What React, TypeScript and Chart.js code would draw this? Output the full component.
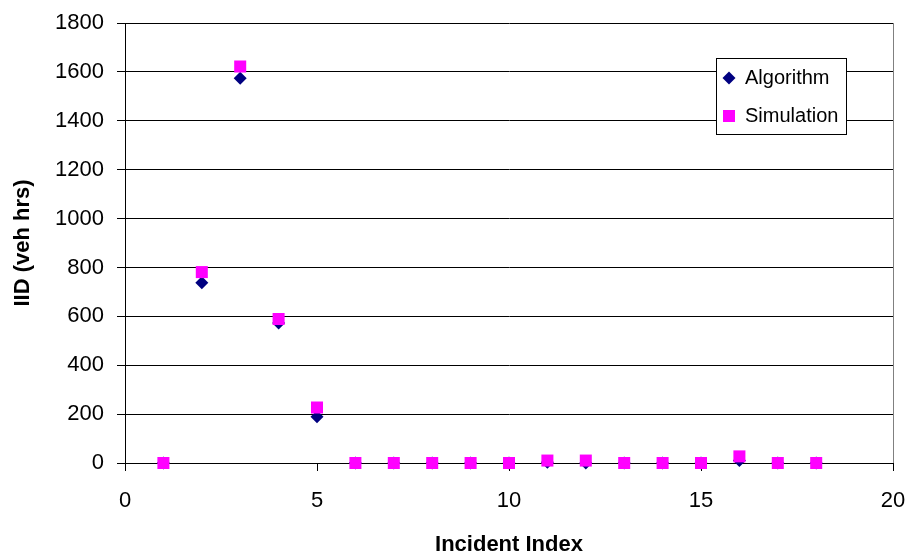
import React, { useEffect, useRef } from "react";
import { Chart, registerables } from "chart.js";

Chart.register(...registerables);

const incidentIndex = [1, 2, 3, 4, 5, 6, 7, 8, 9, 10, 11, 12, 13, 14, 15, 16, 17, 18];
const algorithmValues = [0, 737, 1574, 573, 189, 0, 0, 0, 0, 0, 3, 0, 0, 0, 0, 10, 0, 0];
const simulationValues = [0, 781, 1622, 589, 227, 0, 0, 0, 0, 0, 10, 10, 0, 0, 0, 27, 0, 0];
const seriesNames = ["Algorithm", "Simulation"];
const seriesColors = ["#000080", "#FF00FF"];
const xTitle = "Incident Index";
const yTitle = "IID (veh hrs)";

const FONT = '"Liberation Sans", Arial, sans-serif';

const frameAndLegend = {
  id: "frameAndLegend",
  afterDatasetsDraw(chart: any) {
    const { ctx, chartArea } = chart;
    ctx.save();
    // right border of plot area
    ctx.strokeStyle = "#808080";
    ctx.lineWidth = 1;
    ctx.beginPath();
    ctx.moveTo(Math.round(chartArea.right) + 0.5, chartArea.top);
    ctx.lineTo(Math.round(chartArea.right) + 0.5, chartArea.bottom);
    ctx.stroke();

    // legend box
    const bx = 716.5, by = 58.5, bw = 130, bh = 76;
    ctx.fillStyle = "#ffffff";
    ctx.fillRect(bx, by, bw, bh);
    ctx.strokeStyle = "#000000";
    ctx.strokeRect(bx, by, bw, bh);

    // Algorithm marker (diamond)
    const mx = 729;
    const y1 = 78, y2 = 116;
    ctx.fillStyle = seriesColors[0];
    ctx.beginPath();
    ctx.moveTo(mx, y1 - 6.5);
    ctx.lineTo(mx + 6.5, y1);
    ctx.lineTo(mx, y1 + 6.5);
    ctx.lineTo(mx - 6.5, y1);
    ctx.closePath();
    ctx.fill();
    // Simulation marker (square)
    ctx.fillStyle = seriesColors[1];
    ctx.fillRect(mx - 6, y2 - 6, 12, 12);

    ctx.fillStyle = "#000000";
    ctx.font = `20px ${FONT}`;
    ctx.textBaseline = "middle";
    ctx.textAlign = "left";
    ctx.fillText(seriesNames[0], 745, y1);
    ctx.fillText(seriesNames[1], 745, y2);
    ctx.restore();
  },
};

export default function App() {
  const canvasRef = useRef<HTMLCanvasElement | null>(null);

  useEffect(() => {
    if (!canvasRef.current) return;
    const chart = new Chart(canvasRef.current, {
      type: "scatter",
      data: {
        datasets: [
          {
            label: seriesNames[1],
            data: incidentIndex.map((x, i) => ({ x, y: simulationValues[i] })),
            pointStyle: "rect",
            pointRadius: 8.5,
            backgroundColor: seriesColors[1],
            borderColor: seriesColors[1],
            borderWidth: 0,
            order: 0,
            clip: false as any,
          },
          {
            label: seriesNames[0],
            data: incidentIndex.map((x, i) => ({ x, y: algorithmValues[i] })),
            pointStyle: "rectRot",
            pointRadius: 6.5,
            backgroundColor: seriesColors[0],
            borderColor: seriesColors[0],
            borderWidth: 0,
            order: 1,
            clip: false as any,
          },
        ],
      },
      options: {
        animation: false,
        responsive: true,
        maintainAspectRatio: false,
        layout: { padding: { top: 23, right: 17, left: 0, bottom: 0 } },
        plugins: {
          legend: { display: false },
          tooltip: { enabled: false },
        },
        scales: {
          x: {
            type: "linear",
            min: 0,
            max: 20,
            ticks: {
              stepSize: 5,
              color: "#000",
              padding: 17,
              font: { family: FONT, size: 22 },
              callback: (v: any) => String(v),
            },
            grid: {
              display: true,
              drawOnChartArea: false,
              drawTicks: true,
              tickLength: 8,
              color: "#000",
            },
            border: { display: true, color: "#000", width: 1 },
            title: {
              display: true,
              text: xTitle,
              color: "#000",
              font: { family: FONT, size: 22, weight: "bold" },
              padding: { top: 0, bottom: 0 },
            },
            afterFit(scale: any) {
              scale.height = 95;
              scale.paddingLeft = 0;
              scale.paddingRight = 0;
            },
          },
          y: {
            type: "linear",
            min: 0,
            max: 1800,
            ticks: {
              stepSize: 200,
              color: "#000",
              padding: 13,
              font: { family: FONT, size: 22 },
              callback: (v: any) => String(v),
            },
            grid: {
              display: true,
              drawOnChartArea: true,
              drawTicks: true,
              tickLength: 8,
              color: "#000",
            },
            border: { display: true, color: "#000", width: 1 },
            title: {
              display: true,
              text: yTitle,
              color: "#000",
              font: { family: FONT, size: 22, weight: "bold" },
              padding: { top: 10, bottom: 0 },
            },
            afterFit(scale: any) {
              scale.width = 125;
              scale.paddingTop = 0;
              scale.paddingBottom = 0;
            },
          },
        },
      },
      plugins: [frameAndLegend],
    });
    return () => chart.destroy();
  }, []);

  return (
    <div style={{ position: "fixed", left: 0, top: 0, width: 910, height: 558, background: "#fff" }}>
      <canvas ref={canvasRef} />
    </div>
  );
}
